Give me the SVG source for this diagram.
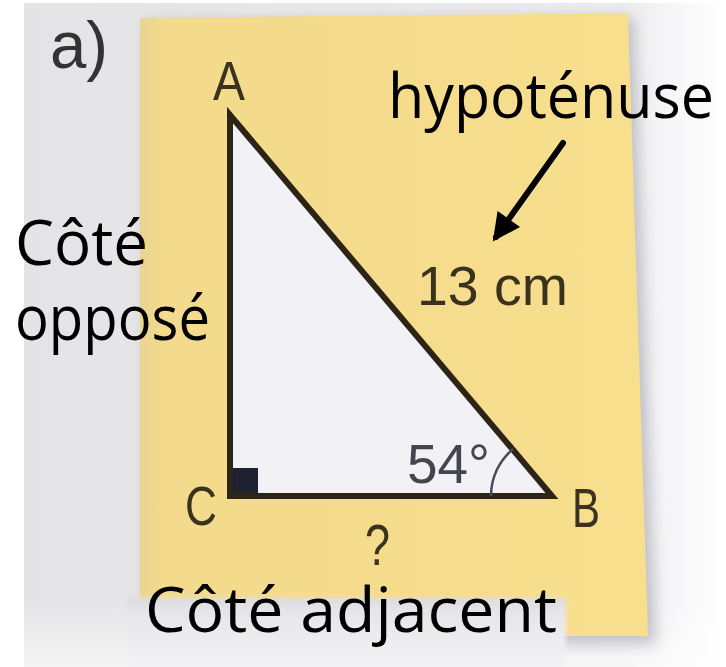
<svg xmlns="http://www.w3.org/2000/svg" width="726" height="667" viewBox="0 0 726 667">
  <defs>
    <linearGradient id="bgR" x1="0" y1="0" x2="1" y2="0">
      <stop offset="0" stop-color="#e4e4e6"/>
      <stop offset="0.85" stop-color="#ebebed"/>
      <stop offset="0.93" stop-color="#f7f7f9"/>
      <stop offset="1" stop-color="#ffffff"/>
    </linearGradient>
    <linearGradient id="bgB" x1="0" y1="0" x2="0" y2="1">
      <stop offset="0" stop-color="#ffffff" stop-opacity="0"/>
      <stop offset="1" stop-color="#ffffff" stop-opacity="0.6"/>
    </linearGradient>
    <linearGradient id="paper" x1="0" y1="0" x2="1" y2="0">
      <stop offset="0" stop-color="#e9d591"/>
      <stop offset="0.05" stop-color="#f3da8c"/>
      <stop offset="1" stop-color="#f8df8e"/>
    </linearGradient>
    <linearGradient id="textbox" x1="0" y1="0" x2="0" y2="1">
      <stop offset="0" stop-color="#dcdce0"/>
      <stop offset="0.2" stop-color="#e6e6ea"/>
      <stop offset="1" stop-color="#f4f4f6"/>
    </linearGradient>
    <filter id="shadow" x="-10%" y="-10%" width="120%" height="120%">
      <feGaussianBlur stdDeviation="7"/>
    </filter>
    <filter id="edge" x="-5%" y="-20%" width="110%" height="140%">
      <feGaussianBlur stdDeviation="2"/>
    </filter>
    <marker id="arrowHead" viewBox="0 0 10 10" refX="8" refY="5" markerWidth="5.2" markerHeight="4.6" orient="auto" markerUnits="strokeWidth">
      <path d="M0,0 L10,5 L0,10 Z" fill="#000"/>
    </marker>
  </defs>
  <style>
    .hand { font-family: "Open Sans", "Noto Sans", "DejaVu Sans", sans-serif; font-size: 62px; font-weight: 500; fill: #000; }
    .lbl { font-family: "Liberation Sans", Arial, sans-serif; font-size: 56px; fill: #3a321f; }
  </style>

  <!-- background -->
  <rect x="0" y="0" width="726" height="667" fill="#ffffff"/>
  <rect x="24" y="3" width="702" height="664" fill="url(#bgR)"/>
  <rect x="24" y="600" width="702" height="67" fill="url(#bgB)"/>

  <!-- sticky note -->
  <g id="note">
    <path d="M146,22 L634,18 L656,644 L146,644 Z" fill="#9a9aa6" opacity="0.55" filter="url(#shadow)"/>
    <path d="M140,18 L628,13 L648,636 L140,636 Z" fill="url(#paper)"/>
    <rect x="126" y="598" width="440" height="72" fill="url(#textbox)" filter="url(#edge)"/>
  </g>

  <g id="label-a">
    <text x="50" y="68" class="lbl" style="fill:#333333;font-size:66px" textLength="58" lengthAdjust="spacingAndGlyphs">a)</text>
  </g>

  <!-- triangle -->
  <g id="triangle">
    <polygon points="230,115 230,496 552,496" fill="#f2f1f6"/>
    <rect x="233" y="468" width="25" height="25" fill="#1d2130"/>
    <path d="M230,115 L230,496 L552,496 Z" fill="none" stroke="#2d2416" stroke-width="6" stroke-linejoin="miter"/>
    <path d="M491,496 A61,61 0 0 1 513,449" fill="none" stroke="#4a4a55" stroke-width="2.5"/>
  </g>

  <g id="vertex-A"><text x="213" y="100" class="lbl" textLength="32" lengthAdjust="spacingAndGlyphs">A</text></g>
  <g id="vertex-C"><text x="185" y="525" class="lbl" textLength="32" lengthAdjust="spacingAndGlyphs">C</text></g>
  <g id="vertex-B"><text x="572" y="527" class="lbl" textLength="28" lengthAdjust="spacingAndGlyphs">B</text></g>
  <g id="length-13"><text x="417" y="305" class="lbl" textLength="151" lengthAdjust="spacingAndGlyphs">13 cm</text></g>
  <g id="angle-54"><text x="407" y="483" class="lbl" style="fill:#45454f" textLength="83" lengthAdjust="spacingAndGlyphs">54°</text></g>
  <g id="unknown"><text x="365" y="565" class="lbl" style="font-size:58px" textLength="25" lengthAdjust="spacingAndGlyphs">?</text></g>

  <g id="hypotenuse-label"><text x="388" y="118" class="hand" textLength="326" lengthAdjust="spacingAndGlyphs">hypoténuse</text></g>
  <g id="opposite-label">
    <text x="15" y="265" class="hand" textLength="133" lengthAdjust="spacingAndGlyphs">Côté</text>
    <text x="15" y="340" class="hand" textLength="195" lengthAdjust="spacingAndGlyphs">opposé</text>
  </g>
  <g id="adjacent-label"><text x="145" y="632" class="hand" textLength="412" lengthAdjust="spacingAndGlyphs">Côté adjacent</text></g>

  <!-- connectors -->
  <g id="connectors">
    <line x1="563" y1="143" x2="496" y2="237" stroke="#000" stroke-width="6" stroke-linecap="round" marker-end="url(#arrowHead)"/>
  </g>
</svg>
